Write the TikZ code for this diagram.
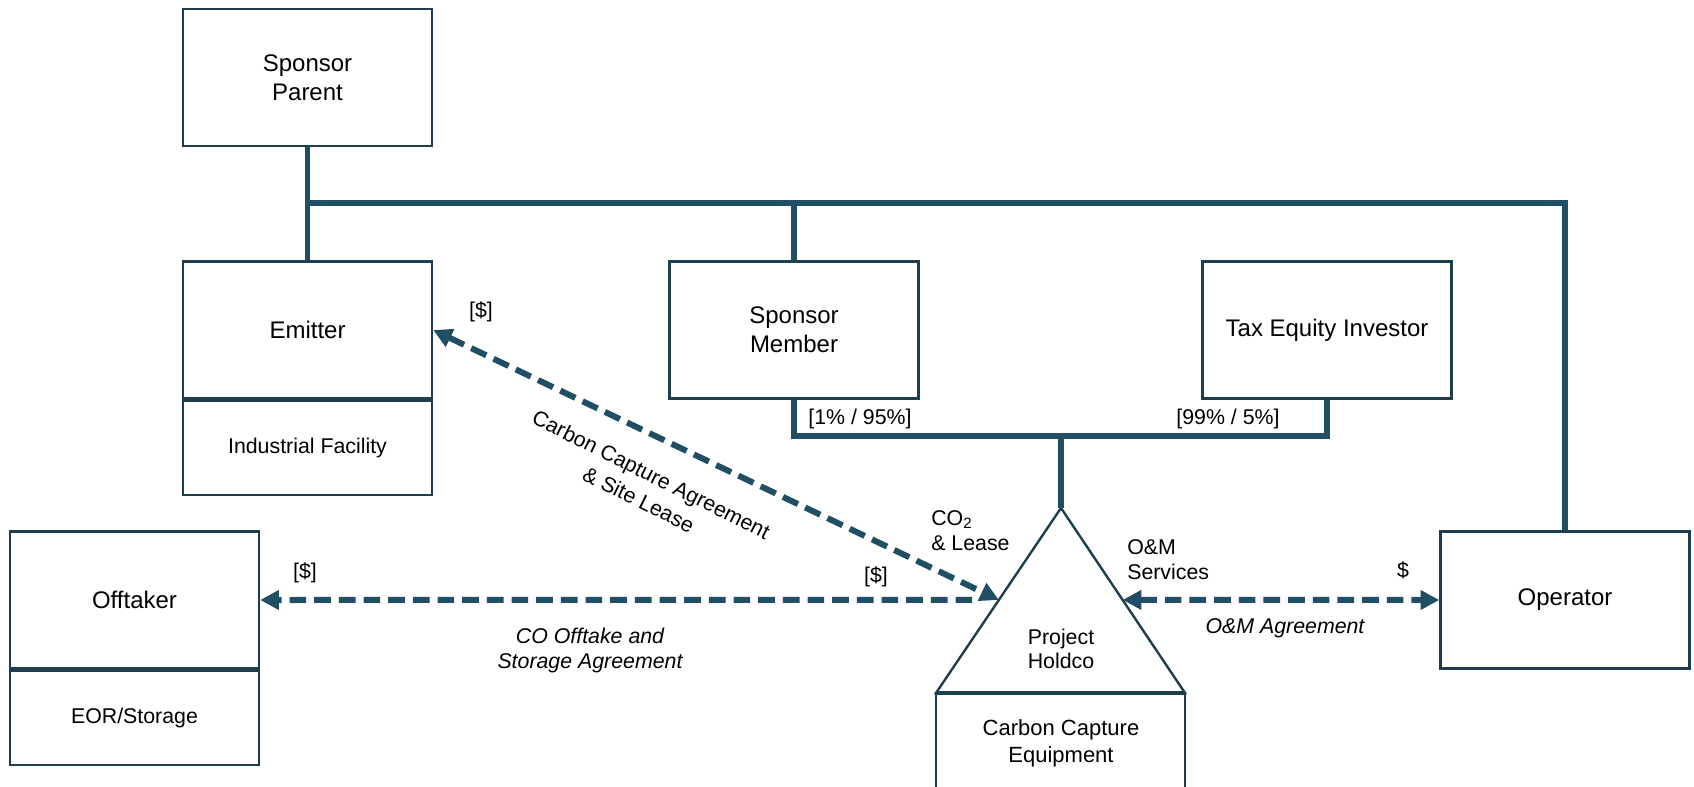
\documentclass[tikz,border=0pt]{standalone}
\usepackage{fontspec}
\setmainfont{Liberation Sans}
\usetikzlibrary{arrows.meta,calc}
\definecolor{linec}{RGB}{32,79,101}
\definecolor{boxc}{RGB}{30,62,80}
\begin{document}
\begin{tikzpicture}[x=0.75pt,y=-0.75pt,
  box/.style={draw=boxc,line width=1.8pt,minimum width=186.75pt,minimum height=102.75pt,inner sep=0pt,align=center,font=\fontsize{18}{21.75}\selectfont},
  subbox/.style={draw=boxc,line width=1.8pt,minimum width=186.75pt,minimum height=70.5pt,inner sep=0pt,align=center,font=\fontsize{16}{19}\selectfont},
  bus/.style={draw=linec,line width=4pt},
  flow/.style={draw=linec,line width=4.5pt,dash pattern=on 12.5pt off 6pt,>={Triangle[length=14pt,width=14pt]}},
  lbl/.style={font=\fontsize{16}{18.75}\selectfont,inner sep=0pt,align=center},
  ilbl/.style={font=\fontsize{16}{18.75}\selectfont\itshape,inner sep=0pt,align=center},
]
\useasboundingbox (0,0) rectangle (1694,787);

% boxes
\node[box] (parent) at (307.5,77.5) {Sponsor\\Parent};
\node[box] (emitter) at (307.5,330) {Emitter};
\node[subbox,anchor=north] (facility) at (emitter.south) {Industrial Facility};
\node[box] (member) at (794,330) {Sponsor\\Member};
\node[box] (taxeq) at (1327,330) {Tax Equity Investor};
\node[box] (operator) at (1565,600) {Operator};
\node[box] (offtaker) at (134.5,600) {Offtaker};
\node[subbox,anchor=north] (eor) at (offtaker.south) {EOR/Storage};

% project holdco triangle and capture equipment
\coordinate (apex) at (1061,508);
\coordinate (bl) at (936,693);
\coordinate (br) at (1185,693);
\coordinate (cbl) at (936,800);
\coordinate (cbr) at (1185,800);
\draw[draw=boxc,line width=1.8pt,line join=miter] (apex) -- (bl) -- (br) -- cycle;
\draw[draw=boxc,line width=1.8pt] (cbl) -- (bl) (br) -- (cbr);
\draw[draw=boxc,line width=3pt] (bl) -- (br);
\node[lbl,font=\fontsize{16}{18}\selectfont] (holdco) at (1061,649) {Project\\Holdco};
\node[lbl,font=\fontsize{16.5}{20.25}\selectfont] (capture) at (1061,743) {Carbon Capture\\Equipment};
\coordinate (tl) at ($(apex)!0.497!(bl)$);
\coordinate (tr) at ($(apex)!0.497!(br)$);

% ownership lines
\coordinate (j1) at (307.5,203);
\coordinate (j2) at (1061,436);
\draw[bus] (parent.south) -- (emitter.north);
\draw[bus,line join=miter] (j1) -| (operator.north);
\draw[bus] (member.north) -- (member.north |- j1);
\draw[bus,line join=miter] (member.south) |- (j2) -| (taxeq.south);
\draw[bus] (j2) -- (apex);

% contract flows
\draw[flow,->,shorten <=20pt] (tl) -- (offtaker.east);
\draw[flow,<->] (emitter.east) -- (tl);
\draw[flow,<->] (tr) -- (operator.west);

% labels
\node[lbl] (d1) at (481,312) {[\$]};
\node[lbl] (d2) at (305,573) {[\$]};
\node[lbl] (d3) at (876,577) {[\$]};
\node[lbl] (d4) at (1403,570) {\$};
\node[lbl,anchor=west,align=left] (co2) at (931,530.5) {CO\textsubscript{2}\\\& Lease};
\node[lbl,anchor=west,align=left] (oms) at (1127,559.5) {O\&M\\Services};
\node[ilbl] (omag) at (1285,628) {O\&M Agreement};
\node[ilbl] (coag) at (590,650) {CO Offtake and\\Storage Agreement};
\node[lbl] (pct1) at (860,419) {[1\% / 95\%]};
\node[lbl] (pct2) at (1228,419) {[99\% / 5\%]};
\node[lbl,rotate=-26.5,font=\fontsize{16}{21}\selectfont] (ccag) at (645,487) {Carbon Capture Agreement\\\& Site Lease};
\end{tikzpicture}
\end{document}
